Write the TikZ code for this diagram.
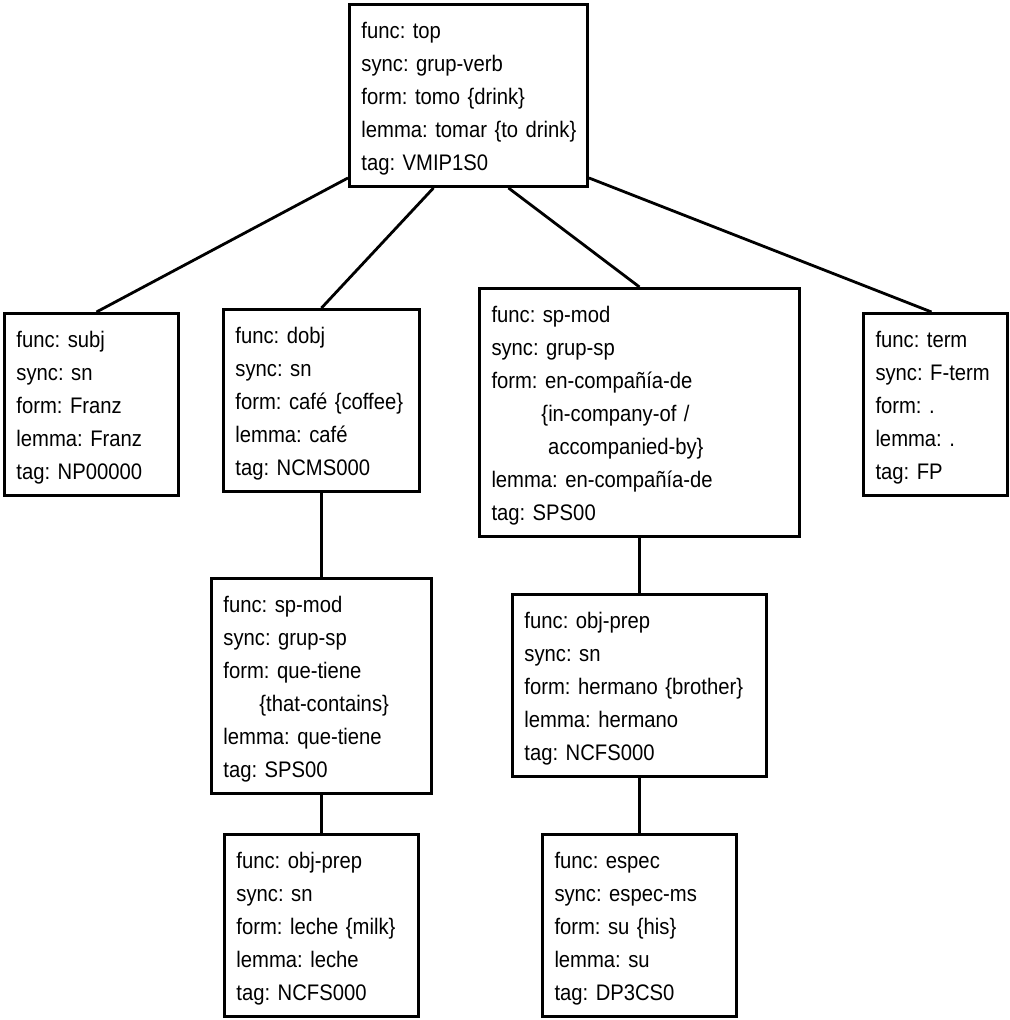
\documentclass[tikz,border=0pt]{standalone}
\usepackage{fontspec}
\setmainfont{Liberation Sans}[FakeStretch=0.9]
\usepackage{tikz}
\newcommand{\fbeg}{\rule{0pt}{0.68cm}}
\newcommand{\fend}{\rule[-0.32cm]{0pt}{0pt}}
\frenchspacing

\begin{document}
\begin{tikzpicture}[x=0.02cm, y=-0.02cm,
  featbox/.style={draw, line width=1.7pt, anchor=north west, align=left,
    inner xsep=0.24cm, inner ysep=0pt, font=\fontsize{12.8pt}{18.78pt}\selectfont\frenchspacing},
  link/.style={line width=1.6pt}]
  \useasboundingbox (0,0) rectangle (1009,1020);
  \node[featbox, text width=4.28cm] (top) at (348,3)
    {\fbeg func: top\\ sync: grup-verb\\ form: tomo \{drink\}\\ \mbox{lemma: tomar \{to drink\}}\\ tag: VMIP1S0\fend};
  \node[featbox, text width=3.00cm] (subj) at (3,312)
    {\fbeg func: subj\\ sync: sn\\ form: Franz\\ lemma: Franz\\ tag: NP00000\fend};
  \node[featbox, text width=3.44cm] (dobj) at (222,308)
    {\fbeg func: dobj\\ sync: sn\\ form: café \{coffee\}\\ lemma: café\\ tag: NCMS000\fend};
  \node[featbox, text width=5.92cm] (compania) at (478,287)
    {\fbeg func: sp-mod\\ sync: grup-sp\\ form: en-compañía-de\\
     \hspace*{1cm}\{in-company-of /\\ \hspace*{1cm}\phantom{\{}accompanied-by\}\\
     lemma: en-compañía-de\\ tag: SPS00\fend};
  \node[featbox, text width=2.40cm] (term) at (862,312)
    {\fbeg func: term\\ sync: F-term\\ form: .\\ lemma: .\\ tag: FP\fend};
  \node[featbox, text width=3.92cm] (quetiene) at (210,577)
    {\fbeg func: sp-mod\\ sync: grup-sp\\ form: que-tiene\\ \hspace*{0.72cm}\{that-contains\}\\
     lemma: que-tiene\\ tag: SPS00\fend};
  \node[featbox, text width=3.40cm] (leche) at (223,833)
    {\fbeg func: obj-prep\\ sync: sn\\ form: leche \{milk\}\\ lemma: leche\\ tag: NCFS000\fend};
  \node[featbox, text width=4.60cm] (hermano) at (511,593)
    {\fbeg func: obj-prep\\ sync: sn\\ form: hermano \{brother\}\\ lemma: hermano\\ tag: NCFS000\fend};
  \node[featbox, text width=3.40cm] (espec) at (541,833)
    {\fbeg func: espec\\ sync: espec-ms\\ form: su \{his\}\\ lemma: su\\ tag: DP3CS0\fend};

  \draw[link] ([yshift=0.2cm]top.south west) -- ([xshift=0.1cm]subj.north);
  \draw[link] ([xshift=-0.7cm]top.south) -- (dobj.north);
  \draw[link] ([xshift=0.8cm]top.south) -- (compania.north);
  \draw[link] ([yshift=0.2cm]top.south east) -- ([xshift=-0.08cm]term.north);
  \draw[link] (dobj.south) -- (quetiene.north);
  \draw[link] (quetiene.south) -- (leche.north);
  \draw[link] (compania.south) -- (hermano.north);
  \draw[link] (hermano.south) -- (espec.north);
\end{tikzpicture}
\end{document}
